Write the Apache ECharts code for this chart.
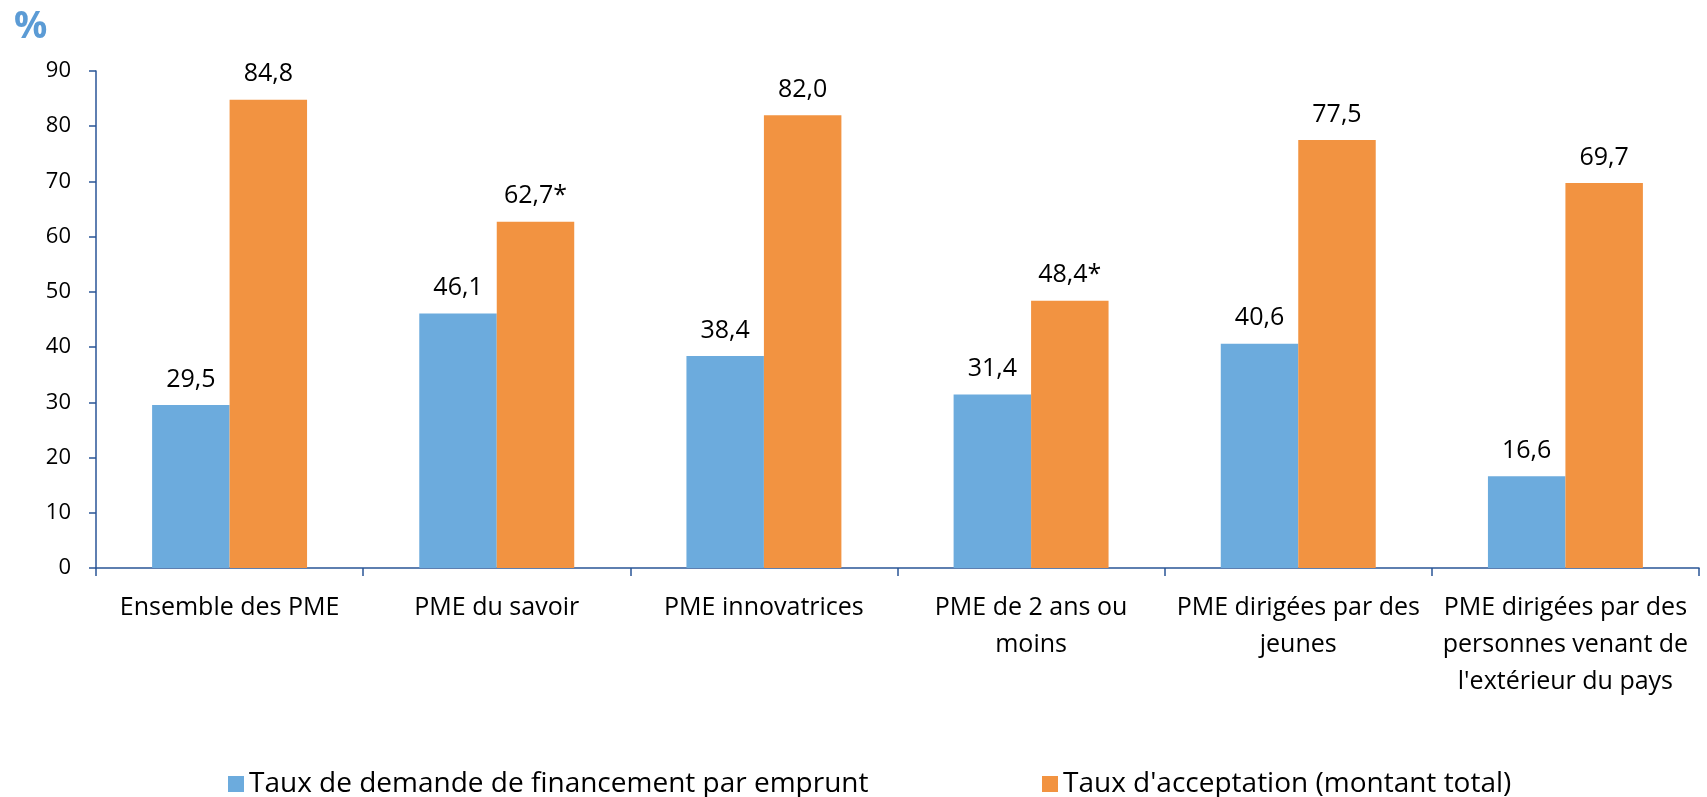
<!DOCTYPE html>
<html>
<head>
<meta charset="utf-8">
<script src="https://cdn.jsdelivr.net/npm/echarts@6/dist/echarts.min.js"></script>
<style>
  html, body { margin: 0; padding: 0; background: #fff; }
  #chart { width: 1707px; height: 797px; }
</style>
</head>
<body>
<div id="chart"></div>
<script>
const categories = [
  'Ensemble des PME',
  'PME du savoir',
  'PME innovatrices',
  'PME de 2 ans ou\nmoins',
  'PME dirigées par des\njeunes',
  'PME dirigées par des\npersonnes venant de\nl\'extérieur du pays'
]
const demande = [29.5, 46.1, 38.4, 31.4, 40.6, 16.6]
const acceptation = [84.8, 62.7, 82.0, 48.4, 77.5, 69.7]
// valeurs marquées d'un astérisque dans la source
const acceptationStar = [false, true, false, true, false, false]
const yTicks = [0, 10, 20, 30, 40, 50, 60, 70, 80, 90]

const FONT = '"Open Sans", "DejaVu Sans", sans-serif'
const axisColor = '#2a5597'

const fmt = v => v.toFixed(1).replace('.', ',')

const chart = echarts.init(document.getElementById('chart'))

chart.setOption({
  animation: false,
  textStyle: { fontFamily: FONT },
  title: {
    text: '%',
    left: 9,
    top: 4,
    textStyle: { color: '#5b9bd5', fontSize: 37, fontWeight: 'bold', fontFamily: FONT }
  },
  legend: [
    {
      data: ['Taux de demande de financement par emprunt'],
      left: 223,
      top: 765,
      itemWidth: 16,
      itemHeight: 16,
      icon: 'rect',
      textStyle: { fontSize: 28, color: '#000', fontFamily: FONT }
    },
    {
      data: ["Taux d'acceptation (montant total)"],
      left: 1037,
      top: 765,
      itemWidth: 16,
      itemHeight: 16,
      icon: 'rect',
      textStyle: { fontSize: 28, color: '#000', fontFamily: FONT }
    }
  ],
  grid: { left: 96, right: 8, top: 71, bottom: 229, containLabel: false },
  xAxis: {
    type: 'category',
    data: categories,
    axisLine: { lineStyle: { color: axisColor, width: 1.5 } },
    axisTick: { show: true, length: 8, lineStyle: { color: axisColor, width: 1.5 } },
    axisLabel: {
      color: '#000',
      fontSize: 25,
      lineHeight: 37,
      margin: 21,
      interval: 0,
      fontFamily: FONT
    }
  },
  yAxis: {
    type: 'value',
    min: yTicks[0],
    max: yTicks[yTicks.length - 1],
    interval: 10,
    axisLine: { show: true, lineStyle: { color: axisColor, width: 1.5 } },
    axisTick: { show: true, length: 7, lineStyle: { color: axisColor, width: 1.5 } },
    splitLine: { show: false },
    axisLabel: { color: '#000', fontSize: 22, margin: 25, fontFamily: FONT }
  },
  series: [
    {
      name: 'Taux de demande de financement par emprunt',
      type: 'bar',
      data: demande,
      barGap: '0%',
      barCategoryGap: '42%',
      itemStyle: { color: '#6cabdd' },
      label: {
        show: true,
        position: 'top',
        distance: 13,
        color: '#000',
        fontSize: 25,
        fontFamily: FONT,
        formatter: p => fmt(p.value)
      }
    },
    {
      name: "Taux d'acceptation (montant total)",
      type: 'bar',
      data: acceptation,
      itemStyle: { color: '#f29341' },
      label: {
        show: true,
        position: 'top',
        distance: 13,
        color: '#000',
        fontSize: 25,
        fontFamily: FONT,
        formatter: p => fmt(p.value) + (acceptationStar[p.dataIndex] ? '*' : '')
      }
    }
  ]
})
</script>
</body>
</html>
